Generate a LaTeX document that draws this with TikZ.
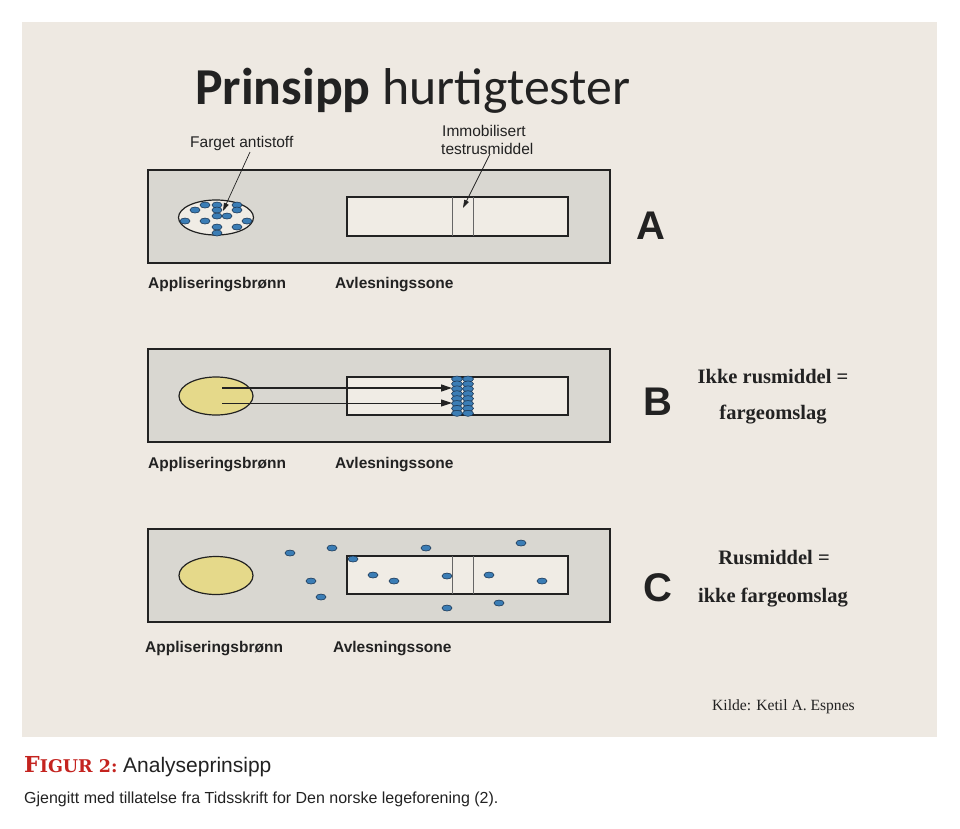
\documentclass[tikz,border=0pt]{standalone}
\usepackage{fontspec}
\setmainfont{Liberation Serif}
\setsansfont{Liberation Sans}
\newfontfamily\titlefont{Carlito}
\newfontfamily\figfont{DejaVu Serif}
\usetikzlibrary{arrows.meta,shapes.geometric}
\definecolor{panel}{HTML}{EEE9E2}
\definecolor{strip}{HTML}{D9D7D1}
\definecolor{zone}{HTML}{F0ECE5}
\definecolor{dotblue}{HTML}{3B7DB5}
\definecolor{dotedge}{HTML}{1E3A58}
\definecolor{wellyellow}{HTML}{E5D98A}
\definecolor{figred}{HTML}{C4231F}
\definecolor{ink}{HTML}{222222}
\tikzset{
  stripbox/.style={draw=ink,line width=1.3pt,fill=strip},
  zonebox/.style={draw=ink,line width=1.2pt,fill=zone},
  bandline/.style={draw=gray!80!black,line width=0.6pt},
  well/.style={draw=ink,line width=1.2pt},
  adot/.style={ellipse,draw=dotedge,line width=0.6pt,fill=dotblue,minimum width=10pt,minimum height=6pt,inner sep=0pt},
  txt/.style={inner sep=0pt,anchor=base west,text=ink},
  lbl/.style={txt,font=\sffamily\bfseries\fontsize{15.5}{16}\selectfont},
  small/.style={txt,font=\sffamily\fontsize{15.5}{16}\selectfont},
  letter/.style={inner sep=0pt,anchor=center,text=ink,font=\sffamily\bfseries\fontsize{40}{40}\selectfont},
  result/.style={inner sep=0pt,anchor=base,text=ink,font=\bfseries\fontsize{20.5}{21}\selectfont},
  ptr/.style={draw=ink,line width=0.7pt,-{Triangle[length=8pt,width=5pt]}},
  flow/.style={draw=ink,line width=1pt,-{Triangle[length=11pt,width=7pt]}}
}
\begin{document}
\begin{tikzpicture}[x=1pt,y=-1pt]
\useasboundingbox (0,0) rectangle (960,828);
\fill[white] (0,0) rectangle (960,828);
\fill[panel] (22,22) rectangle (937,737);

% title
\node[txt,font=\titlefont\fontsize{51.8}{52}\selectfont] (title) at (195,104) {\textbf{Prinsipp} hurtigtester};

% ---------- strip A ----------
\draw[stripbox] (148,170) rectangle (610,263);
\draw[zonebox] (347,197) rectangle (568,236);
\draw[bandline] (452,197) -- (452,236) (473,197) -- (473,236);
\draw[well,fill=zone] (216,217.5) ellipse [x radius=37.5pt,y radius=17.5pt];
\foreach \x/\y [count=\i] in {205/205,217/205,237/205,195/210,217/210,237/210,217/216,227/216,205/221,185/221,247/221,237/227,217/227,217/233}
  \node[adot] (ad\i) at (\x,\y) {};
\node[small] (farget) at (190,147) {Farget antistoff};
\coordinate (fargetend) at (223,211);
\coordinate (fargetstart) at (250,152);
\draw[ptr] (fargetstart) -- (fargetend);
\node[small] (immo1) at (442,136) {Immobilisert};
\node[small] (immo2) at (441,154) {testrusmiddel};
\coordinate (immostart) at (490,154);
\coordinate (immoend) at (463,208);
\draw[ptr] (immostart) -- (immoend);
\node[lbl] (appA) at (148,288) {Appliseringsbrønn};
\node[lbl] (avlA) at (335,288) {Avlesningssone};
\node[letter] (A) at (651,226) {A};

% ---------- strip B ----------
\draw[stripbox] (148,349) rectangle (610,442);
\draw[zonebox] (347,377) rectangle (568,415);
\draw[well,fill=wellyellow] (216,396) ellipse [x radius=37pt,y radius=19pt];
\foreach \r in {0,...,7}{
  \node[adot,minimum width=11pt,minimum height=6pt] (bl\r) at (457,379+4.9*\r) {};
  \node[adot,minimum width=11pt,minimum height=6pt] (br\r) at (468,379+4.9*\r) {};
}
\coordinate (b1s) at (222,388);
\coordinate (b1e) at (452,388);
\coordinate (b2s) at (222,403);
\coordinate (b2e) at (452,403);
\draw[flow,line width=1.4pt] (b1s) -- (b1e);
\draw[flow] (b2s) -- (b2e);
\node[lbl] (appB) at (148,468) {Appliseringsbrønn};
\node[lbl] (avlB) at (335,468) {Avlesningssone};
\node[letter] (B) at (658,402) {B};
\node[result] (resB1) at (773,383) {Ikke rusmiddel =};
\node[result] (resB2) at (773,419) {fargeomslag};

% ---------- strip C ----------
\draw[stripbox] (148,529) rectangle (610,622);
\draw[zonebox] (347,556) rectangle (568,594);
\draw[bandline] (452,556) -- (452,594) (473,556) -- (473,594);
\draw[well,fill=wellyellow] (216,575.5) ellipse [x radius=37pt,y radius=19pt];
\foreach \x/\y [count=\i] in {290/553,332/548,353/559,426/548,521/543,311/581,373/575,394/581,447/576,489/575,542/581,321/597,499/603,447/608}
  \node[adot] (cd\i) at (\x,\y) {};
\node[lbl] (appC) at (145,652) {Appliseringsbrønn};
\node[lbl] (avlC) at (333,652) {Avlesningssone};
\node[letter] (C) at (658,588) {C};
\node[result] (resC1) at (774,564) {Rusmiddel =};
\node[result] (resC2) at (773,602) {ikke fargeomslag};

% source
\node[txt,font=\fontsize{15.6}{16}\selectfont] (kilde) at (712,710) {Kilde: Ketil A. Espnes};

% caption
\node[txt,text=figred,font=\figfont\bfseries] (figur) at (24,772) {{\fontsize{22}{22}\selectfont F}{\fontsize{17.5}{18}\selectfont IGUR 2:}};
\node[txt,font=\sffamily\fontsize{21}{21}\selectfont] (capt) at (123,772) {Analyseprinsipp};
\node[txt,font=\sffamily\fontsize{16}{16}\selectfont] (credit) at (24,803) {Gjengitt med tillatelse fra Tidsskrift for Den norske legeforening (2).};
\end{tikzpicture}
\end{document}
